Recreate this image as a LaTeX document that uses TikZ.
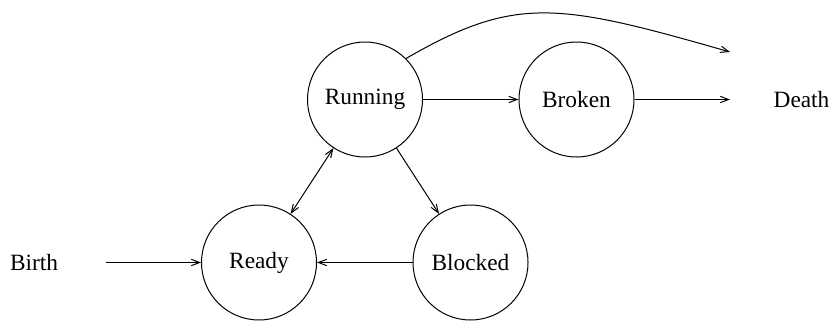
\documentclass[tikz,border=0pt]{standalone}
\usepackage{fontspec}
\setmainfont{Liberation Serif}
\usetikzlibrary{arrows.meta}

\begin{document}
\begin{tikzpicture}[x=0.6pt,y=-0.6pt]
  \tikzstyle{state}=[circle,draw,line width=0.6pt,minimum size=69pt,inner sep=0pt]
  \tikzstyle{every node}=[font=\fontsize{14}{17}\selectfont]
  \tikzstyle{trans}=[->,line width=0.6pt]
  \tikzset{>={Straight Barb[length=5pt,width=3.8pt]}}
  \useasboundingbox (0,0) rectangle (831,322);
  \node[state] (running) at (365,99.5) {Running};
  \node[state] (broken) at (576.5,99.5) {Broken};
  \node[state] (ready) at (259,262.5) {Ready};
  \node[state] (blocked) at (470.5,262.5) {Blocked};
  \node (birth) at (34,262.5) {Birth};
  \node (death) at (801.5,99.5) {Death};
  \coordinate (birthend) at (106,262.5);
  \coordinate (deathend) at (730,99.5);
  \coordinate (killend) at (730,52);
  \draw[trans] (birthend) -- (ready);
  \draw[trans] (blocked) -- (ready);
  \draw[trans,<->] (running) -- (ready);
  \draw[trans] (running) -- (blocked);
  \draw[trans] (running) -- (broken);
  \draw[trans] (broken) -- (deathend);
  \draw[trans] (running.45) .. controls (515,-4.5) and (557,2.3) .. (killend);
\end{tikzpicture}
\end{document}
